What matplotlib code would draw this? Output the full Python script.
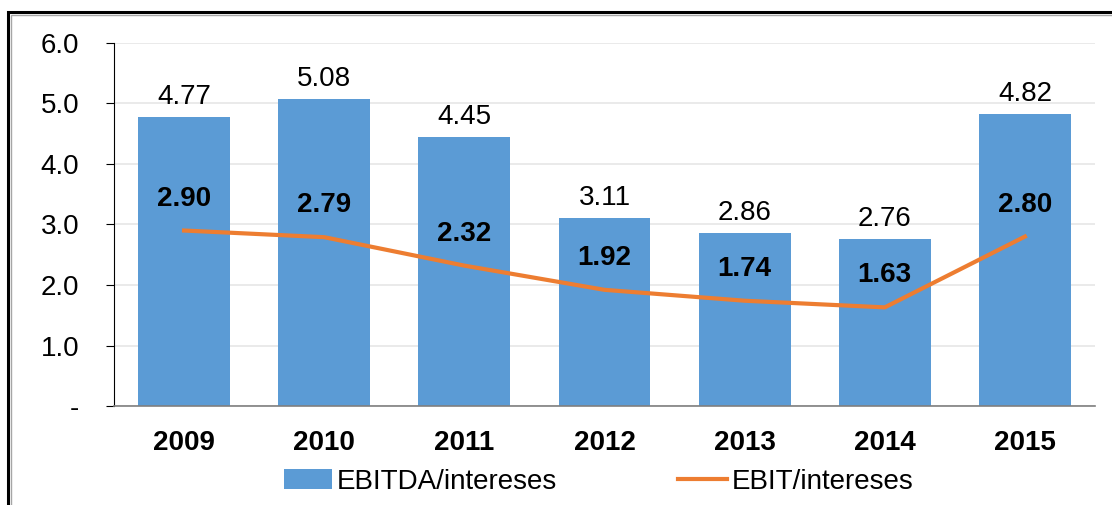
import matplotlib.pyplot as plt
from matplotlib.patches import Rectangle
import numpy as np

plt.rcParams['font.family'] = ['Liberation Sans', 'DejaVu Sans']

years = ["2009", "2010", "2011", "2012", "2013", "2014", "2015"]
ebitda = [4.77, 5.08, 4.45, 3.11, 2.86, 2.76, 4.82]
ebit = [2.90, 2.79, 2.32, 1.92, 1.74, 1.63, 2.80]
yticks = [0, 1, 2, 3, 4, 5, 6]
ytick_labels = ["-", "1.0", "2.0", "3.0", "4.0", "5.0", "6.0"]

fig = plt.figure(figsize=(11.12, 5.05), dpi=100)
ax = fig.add_axes([0.1025, 0.196, 0.8822, 0.719])

x = np.arange(len(years))
bars = ax.bar(x, ebitda, width=0.656, color="#5B9BD5", label="EBITDA/intereses", zorder=2)
line, = ax.plot(x, ebit, color="#ED7D31", lw=3.0, label="EBIT/intereses", zorder=3)

for xi, v in zip(x, ebitda):
    ax.annotate(f"{v:.2f}", (xi, v), xytext=(0, 5), textcoords="offset points",
                ha="center", va="bottom", fontsize=20)
for xi, v in zip(x, ebit):
    ax.annotate(f"{v:.2f}", (xi, v), xytext=(0, 23), textcoords="offset points",
                ha="center", va="center", fontsize=20, fontweight="bold")

ax.set_xlim(-0.5, 6.5)
ax.set_ylim(0, 6)
ax.set_yticks(yticks)
ax.set_yticklabels(ytick_labels, fontsize=20)
ax.set_xticks(x)
ax.set_xticklabels(years, fontsize=20, fontweight="bold")
ax.tick_params(axis="x", length=0, pad=17)
ax.tick_params(axis="y", length=6, direction="out", pad=19)
ax.yaxis.grid(True, color="#E6E6E6", lw=1.2, zorder=0)
ax.set_axisbelow(True)
for s in ["top", "right"]:
    ax.spines[s].set_visible(False)
ax.spines["left"].set_color("black")
ax.spines["bottom"].set_color("#7F7F7F")
ax.spines["bottom"].set_linewidth(1.2)

ax.legend([bars, line], ["EBITDA/intereses", "EBIT/intereses"],
          loc="center", bbox_to_anchor=(0.494, -0.208), ncol=2, frameon=False,
          fontsize=20, handlelength=1.75, handletextpad=0.18, columnspacing=4.35,
          borderaxespad=0)

# outer frame, cut off at right and bottom
fig.patches.append(Rectangle((8 / 1112, -0.1), 1.2, (505 - 12) / 505 + 0.1,
                             transform=fig.transFigure, fill=False,
                             edgecolor="black", lw=2.2))
fig.patches.append(Rectangle((11 / 1112, -0.1), 1.2, (505 - 15) / 505 + 0.1,
                             transform=fig.transFigure, fill=False,
                             edgecolor="#A6A6A6", lw=1.0))

fig.savefig("out.png", dpi=100)
